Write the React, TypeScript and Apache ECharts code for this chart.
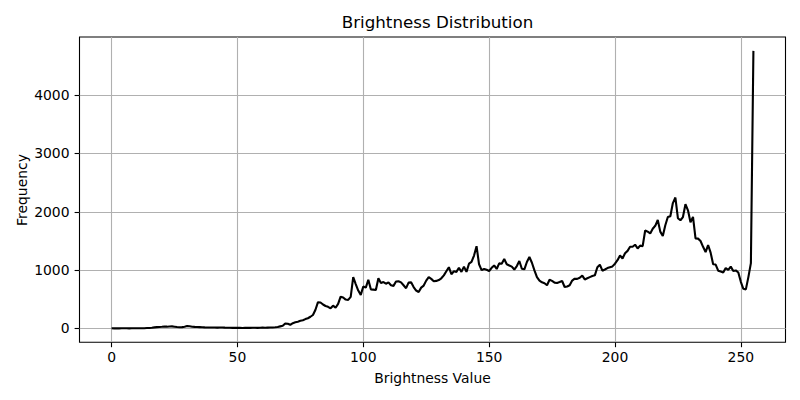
import { useEffect, useRef } from 'react';
import * as echarts from 'echarts';

// Histogram counts for brightness values 0..255
const frequency: number[] = [
    2, 1, 2, 1, 2, 3, 2, 1, 2, 3, 2, 2, 3, 4, 6, 8,
    12, 18, 22, 25, 28, 32, 30, 33, 35, 30, 24, 20, 22, 30, 42, 38,
    30, 26, 24, 22, 20, 18, 17, 16, 15, 17, 14, 16, 15, 13, 12, 11,
    10, 9, 10, 9, 8, 9, 10, 9, 11, 12, 10, 12, 13, 12, 14, 15,
    17, 20, 25, 35, 45, 85, 80, 62, 90, 105, 115, 130, 140, 160, 175, 200,
    230, 320, 450, 445, 410, 385, 370, 345, 390, 355, 420, 545, 530, 495, 490, 540,
    880, 760, 650, 575, 720, 700, 835, 670, 665, 660, 860, 778, 795, 767, 790, 740,
    730, 805, 810, 790, 740, 690, 785, 790, 710, 650, 625, 700, 735, 820, 880, 850,
    810, 815, 830, 860, 910, 980, 1050, 930, 980, 970, 1040, 970, 1060, 970, 1110, 1140,
    1250, 1410, 1100, 1000, 1020, 1005, 985, 1040, 1080, 1020, 1115, 1110, 1190, 1100, 1080, 1060,
    1010, 1070, 1156, 1024, 1013, 1139, 1225, 1127, 996, 880, 820, 790, 775, 740, 835, 815,
    785, 780, 795, 813, 710, 720, 740, 820, 853, 850, 870, 905, 840, 860, 880, 898,
    910, 1050, 1093, 990, 1010, 1035, 1050, 1064, 1110, 1170, 1250, 1200, 1290, 1330, 1400, 1400,
    1436, 1370, 1420, 1410, 1680, 1660, 1630, 1710, 1760, 1860, 1660, 1585, 1770, 1910, 1925, 2150,
    2245, 1890, 1855, 1910, 2130, 2026, 1820, 1911, 1545, 1540, 1500, 1400, 1310, 1430, 1300, 1100,
    1095, 990, 975, 960, 1035, 1005, 1060, 985, 995, 960, 800, 680, 670, 880, 1120, 4760,
];

const xTicks = [0, 50, 100, 150, 200, 250];
const yTicks = [0, 1000, 2000, 3000, 4000];

const FONT = 'DejaVu Sans';

export default function App() {
    const chartRef = useRef<HTMLDivElement>(null);

    useEffect(() => {
        if (!chartRef.current) return;
        const chart = echarts.init(chartRef.current, null, { renderer: 'svg' });

        // matplotlib-style 5% margins around the data
        const maxVal = Math.max(...frequency);
        const yPad = maxVal * 0.05;
        const xPad = (frequency.length - 1) * 0.05;

        const option = {
            animation: false,
            backgroundColor: '#fff',
            title: {
                text: 'Brightness Distribution',
                left: 432.5,
                top: 8.5,
                textAlign: 'center',
                textStyle: {
                    fontFamily: FONT,
                    fontSize: 16.7,
                    fontWeight: 'normal',
                    color: '#000',
                },
            },
            // y axis label, placed by hand like matplotlib's ylabel
            graphic: [
                {
                    type: 'text',
                    x: 21.5,
                    y: 190,
                    rotation: Math.PI / 2,
                    style: {
                        text: 'Frequency',
                        fontFamily: FONT,
                        fontSize: 13.9,
                        fill: '#000',
                        align: 'center',
                        verticalAlign: 'middle',
                    },
                },
            ],
            grid: {
                left: 79.5,
                right: 14.5,
                top: 37,
                bottom: 57.7,
                show: true,
                borderColor: '#000',
                borderWidth: 1.1,
                containLabel: false,
            },
            xAxis: {
                type: 'value',
                min: -xPad,
                max: frequency.length - 1 + xPad,
                name: 'Brightness Value',
                nameLocation: 'middle',
                nameGap: 29,
                nameTextStyle: {
                    fontFamily: FONT,
                    fontSize: 13.9,
                    color: '#000',
                },
                axisLine: { show: false, onZero: false },
                axisTick: {
                    show: true,
                    length: 4.9,
                    customValues: xTicks,
                    lineStyle: { color: '#000', width: 1.1 },
                },
                axisLabel: {
                    customValues: xTicks,
                    formatter: (v: number) => String(v),
                    fontFamily: FONT,
                    fontSize: 13.9,
                    color: '#000',
                    margin: 8,
                },
                splitLine: {
                    show: true,
                    lineStyle: { color: '#b0b0b0', width: 1.1 },
                },
            },
            yAxis: {
                type: 'value',
                min: -yPad,
                max: maxVal + yPad,
                axisLine: { show: false, onZero: false },
                axisTick: {
                    show: true,
                    length: 4.9,
                    customValues: yTicks,
                    lineStyle: { color: '#000', width: 1.1 },
                },
                axisLabel: {
                    customValues: yTicks,
                    formatter: (v: number) => String(v),
                    fontFamily: FONT,
                    fontSize: 13.9,
                    color: '#000',
                    margin: 10,
                },
                splitLine: {
                    show: true,
                    lineStyle: { color: '#b0b0b0', width: 1.1 },
                },
            },
            series: [
                {
                    type: 'line',
                    data: frequency.map((v, i) => [i, v]),
                    showSymbol: false,
                    lineStyle: { color: '#000', width: 2.1 },
                    itemStyle: { color: '#000' },
                },
            ],
        };

        chart.setOption(option);

        return () => {
            chart.dispose();
        };
    }, []);

    return (
        <div
            ref={chartRef}
            style={{ position: 'absolute', left: 0, top: 0, width: 800, height: 400 }}
        />
    );
}
